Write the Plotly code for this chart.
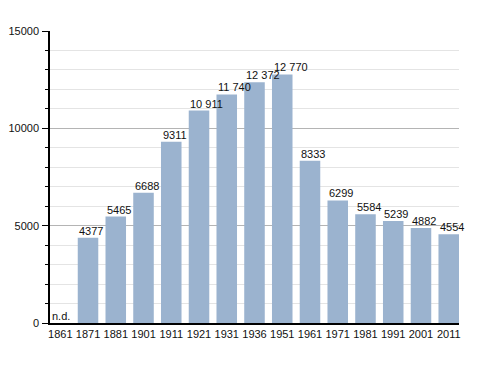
import plotly.graph_objects as go

years = ["1861", "1871", "1881", "1901", "1911", "1921", "1931", "1936",
         "1951", "1961", "1971", "1981", "1991", "2001", "2011"]
population = [None, 4377, 5465, 6688, 9311, 10911, 11740, 12372,
              12770, 8333, 6299, 5584, 5239, 4882, 4554]
labels = ["n.d.", "4377", "5465", "6688", "9311", "10 911", "11 740", "12 372",
          "12 770", "8333", "6299", "5584", "5239", "4882", "4554"]

y_ticks = [0, 5000, 10000, 15000]

FONT = "Liberation Sans, Arial, sans-serif"
BARGAP = 0.26
HALF_BAR = (1 - BARGAP) / 2          # in category units
BAR_PX = 20.5

fig = go.Figure(go.Bar(
    x=years, y=population,
    marker=dict(color="#9bb3cf", line=dict(width=0)),
    hoverinfo="skip",
))

for i, (val, lab) in enumerate(zip(population, labels)):
    fig.add_annotation(
        x=i, y=val if val is not None else 0,
        text=lab, showarrow=False,
        xanchor="left", yanchor="bottom",
        xshift=-BAR_PX / 2 - 0.5, yshift=-1,
        font=dict(family=FONT, size=11, color="#111111"),
    )

# the page body adds an 8px offset, so the figure is sized to fill the rest
fig.update_layout(
    template="none",
    width=480, height=365,
    margin=dict(l=42, r=29, t=23, b=50, autoexpand=False),
    paper_bgcolor="white", plot_bgcolor="white",
    bargap=BARGAP,
    showlegend=False,
    font=dict(family=FONT, size=11, color="#111111"),
    xaxis=dict(
        type="category",
        automargin=False,
        range=[-HALF_BAR, len(years) - 1 + HALF_BAR],
        showline=True, linecolor="black", linewidth=1.5,
        ticks="", showgrid=False,
        tickfont=dict(family=FONT, size=11, color="#111111"),
        fixedrange=True,
    ),
    yaxis=dict(
        automargin=False,
        range=[0, 15000],
        tickvals=y_ticks,
        ticktext=[str(v) for v in y_ticks],
        showline=True, linecolor="black", linewidth=1.5,
        ticks="outside", ticklen=6, tickcolor="black", tickwidth=1,
        ticklabelstandoff=1,
        showgrid=True, gridcolor="#b4b4b4", gridwidth=1,
        zeroline=False,
        minor=dict(dtick=1000, ticks="outside", ticklen=3, tickcolor="black",
                   showgrid=True, gridcolor="#e4e4e4", gridwidth=1),
        tickfont=dict(family=FONT, size=11, color="#111111"),
        fixedrange=True,
    ),
)

fig.write_html("out.html")
